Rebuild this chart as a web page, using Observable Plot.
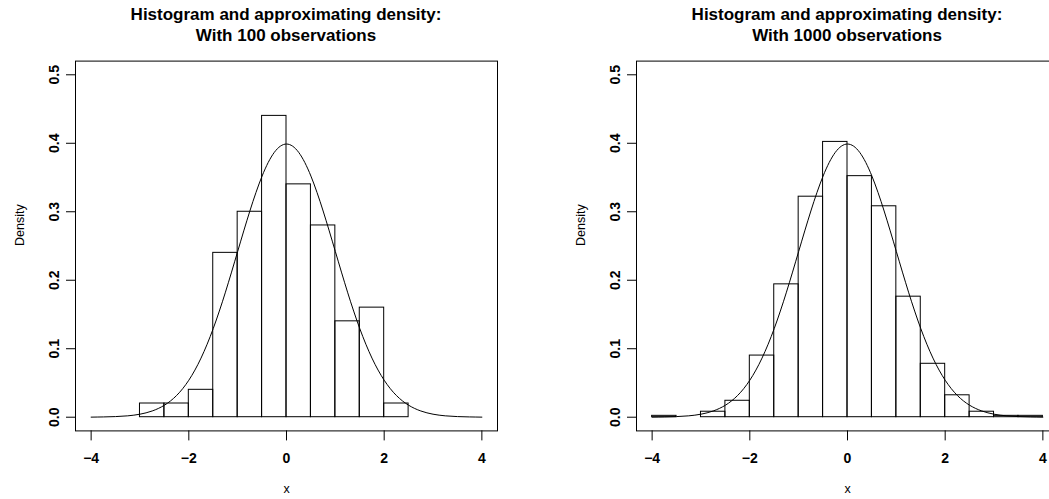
<!DOCTYPE html>
<html>
<head>
<meta charset="utf-8">
<script src="https://cdn.jsdelivr.net/npm/d3@7"></script>
<script src="https://cdn.jsdelivr.net/npm/@observablehq/plot@0.6"></script>
<style>
  html, body { margin: 0; padding: 0; background: #fff; overflow: hidden; }
  #wrap { position: relative; width: 1049px; height: 499px; overflow: hidden; background: #fff; font-family: "Liberation Sans", Arial, Helvetica, sans-serif; color: #000; }
  .panel { position: absolute; top: 0; width: 561px; height: 499px; }
  .title { box-sizing: border-box; height: 52px; margin-left: 75px; width: 422px; padding-top: 5.4px; text-align: center; font-weight: bold; font-size: 17px; line-height: 20.6px; white-space: nowrap; }
  svg { display: block; }
</style>
</head>
<body>
<div id="wrap"></div>
<script>
// ---- data ----
const titleLine1 = "Histogram and approximating density:";
const titleLine2 = ["With 100 observations", "With 1000 observations"];

// Panel 1: 100 observations
const breaks100 = [-3, -2.5, -2, -1.5, -1, -0.5, 0, 0.5, 1, 1.5, 2, 2.5];
const density100 = [0.02, 0.02, 0.04, 0.24, 0.30, 0.44, 0.34, 0.28, 0.14, 0.16, 0.02];

// Panel 2: 1000 observations
const breaks1000 = [-4, -3.5, -3, -2.5, -2, -1.5, -1, -0.5, 0, 0.5, 1, 1.5, 2, 2.5, 3, 3.5, 4];
const density1000 = [0.002, 0.000, 0.008, 0.024, 0.090, 0.194, 0.322, 0.402, 0.352, 0.308, 0.176, 0.078, 0.032, 0.008, 0.002, 0.002];

// Approximating density curve
const curveX = [-4, -3.75, -3.5, -3.25, -3, -2.75, -2.5, -2.25, -2, -1.75, -1.5, -1.25, -1, -0.75, -0.5, -0.25, 0,
                0.25, 0.5, 0.75, 1, 1.25, 1.5, 1.75, 2, 2.25, 2.5, 2.75, 3, 3.25, 3.5, 3.75, 4];
const curveY = [0.0001, 0.0004, 0.0009, 0.0020, 0.0044, 0.0091, 0.0175, 0.0317, 0.0540, 0.0863, 0.1295, 0.1826, 0.2420, 0.3011, 0.3521, 0.3867, 0.3989,
                0.3867, 0.3521, 0.3011, 0.2420, 0.1826, 0.1295, 0.0863, 0.0540, 0.0317, 0.0175, 0.0091, 0.0044, 0.0020, 0.0009, 0.0004, 0.0001];

const xTicks = [-4, -2, 0, 2, 4];
const yTicks = [0, 0.1, 0.2, 0.3, 0.4, 0.5];
const xLabel = "x";
const yLabel = "Density";

function makePanel(breaks, dens, sub, left) {
  const bins = dens.map((d, i) => ({x1: breaks[i], x2: breaks[i + 1], y: d}));
  const curve = curveX.map((x, i) => ({x, y: curveY[i]}));

  const panel = document.createElement("div");
  panel.className = "panel";
  panel.style.left = left + "px";

  const t = document.createElement("div");
  t.className = "title";
  t.innerHTML = titleLine1 + "<br>" + sub;
  panel.appendChild(t);

  const chart = Plot.plot({
    width: 561,
    height: 447,
    marginLeft: 75,
    marginRight: 64,
    marginTop: 8.6,
    marginBottom: 68.6,
    style: {fontFamily: '"Liberation Sans", Arial, Helvetica, sans-serif', background: "#fff", color: "#000", overflow: "visible"},
    x: {domain: [-4.32, 4.32]},
    y: {domain: [-0.02, 0.52]},
    marks: [
      Plot.rectY(bins, {x1: "x1", x2: "x2", y: "y", fill: "none", stroke: "#000", strokeWidth: 1}),
      Plot.line(curve, {x: "x", y: "y", stroke: "#000", strokeWidth: 1, curve: "natural"}),
      Plot.frame({stroke: "#000", strokeWidth: 1}),
      Plot.axisX({ticks: xTicks, tickSize: 10, tickPadding: 12, fontSize: 14, fontWeight: "bold", label: null, stroke: "#000"}),
      Plot.axisY({ticks: yTicks, tickSize: 9, tickPadding: 8, tickRotate: -90, textAnchor: "middle", lineAnchor: "bottom",
                  tickFormat: ".1f", fontSize: 14, fontWeight: "bold", label: null, stroke: "#000"}),
      Plot.text([xLabel], {frameAnchor: "bottom", dy: 62, fontSize: 12.5, fill: "#000"}),
      Plot.text([yLabel], {frameAnchor: "left", dx: -56, rotate: -90, fontSize: 12.5, fill: "#000"})
    ]
  });
  panel.appendChild(chart);
  return panel;
}

const wrap = document.getElementById("wrap");
wrap.appendChild(makePanel(breaks100, density100, titleLine2[0], 0));
wrap.appendChild(makePanel(breaks1000, density1000, titleLine2[1], 561));
</script>
</body>
</html>
